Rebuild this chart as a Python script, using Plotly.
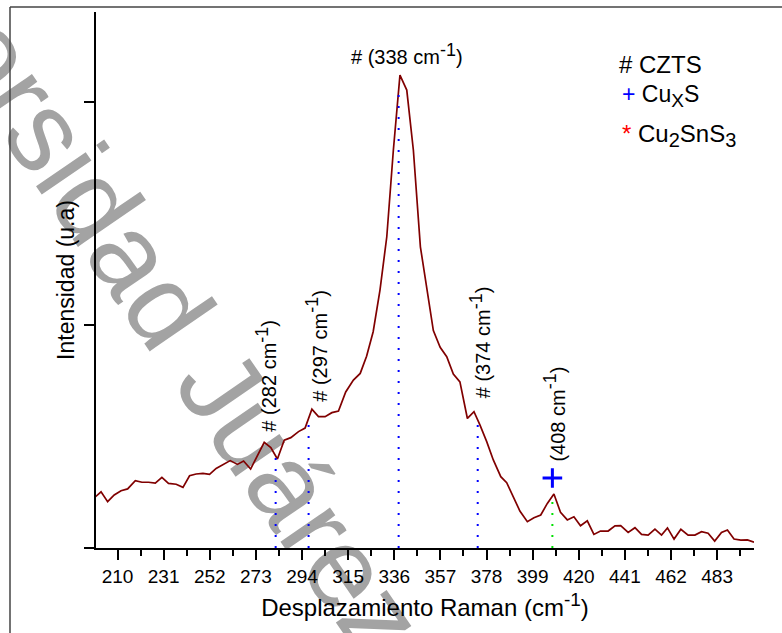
import numpy as np
import plotly.graph_objects as go

# Raman spectrum (shift in cm-1, intensity in arbitrary units)
raman_shift = [
    200.0, 202.5, 205.5, 208.5, 211.6, 214.6, 218.1, 221.1, 224.1, 227.2,
    230.2, 233.2, 236.7, 239.8, 242.8, 245.8, 248.9, 251.9, 254.9, 258.3,
    261.3, 264.6, 267.4, 270.6, 276.8, 279.8, 282.8, 285.9, 288.9, 292.4,
    295.4, 298.5, 301.5, 304.5, 307.6, 310.6, 313.9, 317.4, 320.5, 323.4,
    326.4, 329.5, 332.6, 335.6, 338.6, 341.7, 344.7, 347.9, 351.0, 353.8,
    356.9, 359.9, 362.9, 365.9, 369.3, 372.3, 375.0, 378.1, 381.1, 384.5,
    387.2, 390.2, 393.2, 396.6, 399.6, 402.7, 405.7, 408.7, 411.7, 414.8,
    417.8, 420.8, 423.9, 426.9, 429.9, 433.4, 436.5, 439.1, 442.5, 445.6,
    448.6, 451.6, 454.7, 457.7, 460.4, 463.4, 466.5, 469.8, 472.9, 475.9,
    478.9, 481.9, 485.0, 487.7, 490.7, 493.8, 496.8, 499.8,
]
intensity = [
    230, 252, 208, 238, 257, 265, 302, 295, 295, 291,
    317, 290, 286, 272, 324, 332, 335, 330, 357, 375,
    392, 375, 390, 354, 474, 450, 399, 484, 495, 522,
    538, 623, 589, 589, 607, 614, 700, 753, 783, 860,
    970, 1157, 1396, 1785, 2121, 2054, 1785, 1351, 1142, 975,
    900, 858, 780, 745, 581, 611, 552, 477, 395, 320,
    293, 230, 166, 118, 136, 148, 200, 242, 160, 126,
    140, 100, 122, 61, 76, 76, 99, 100, 70, 91,
    61, 58, 85, 58, 90, 40, 84, 58, 58, 73,
    66, 31, 70, 81, 40, 35, 36, 26,
]

# Assigned CZTS modes (blue) and the CuxS mode (green)
czts_peaks = [282, 297, 338, 374]
cuxs_peaks = [408]

x_ticks = [210, 231, 252, 273, 294, 315, 336, 357, 378, 399, 420, 441, 462, 483]
y_ticks = [0, 1000, 2000]

FONT = "Arial, Liberation Sans, sans-serif"
X_RANGE = [200.2, 499.8]
Y_RANGE = [0, 2404]


def sup(t, size):
    return f"<sup><span style='font-size:{size}px'>{t}</span></sup>"


def sub(t, size):
    return f"<sub><span style='font-size:{size}px'>{t}</span></sub>"


fig = go.Figure()

# Spectrum
fig.add_trace(go.Scatter(
    x=raman_shift, y=intensity, mode="lines",
    line=dict(color="#800000", width=1.7),
    showlegend=False, hoverinfo="skip",
))


# Dotted guide lines from the baseline up to the spectrum
def guide(pos, color):
    top = float(np.interp(pos, raman_shift, intensity))
    fig.add_trace(go.Scatter(
        x=[pos, pos], y=[0, top], mode="lines",
        line=dict(color=color, width=2, dash="2px,9px"),
        showlegend=False, hoverinfo="skip",
    ))


for p in czts_peaks:
    guide(p, "#0000ff")
for p in cuxs_peaks:
    guide(p, "#00e000")

# CuxS marker above the 408 cm-1 band
fig.add_trace(go.Scatter(
    x=[cuxs_peaks[0]], y=[314], mode="markers",
    marker=dict(symbol="cross-thin", size=14, line=dict(color="#0000ff", width=3)),
    showlegend=False, hoverinfo="skip",
))

# Peak labels
LBL = 20
peak_font = dict(family=FONT, size=LBL, color="black")
fig.add_annotation(x=342.0, y=2215, text="# (338 cm" + sup("-1", 18) + ")",
                   showarrow=False, font=peak_font, xanchor="center", yanchor="middle")
for xp, yp, val, prefix in [
    (277.5, 772, 282, "# "),
    (300.6, 905, 297, "# "),
    (374.8, 925, 374, "# "),
    (408.9, 600, 408, ""),
]:
    fig.add_annotation(x=xp, y=yp, text=f"{prefix}({val} cm" + sup("-1", 18) + ")",
                       textangle=-90, showarrow=False,
                       font=peak_font, xanchor="center", yanchor="middle")

# Phase key
fig.add_annotation(x=437.4, y=2170, text="# CZTS", showarrow=False,
                   font=dict(family=FONT, size=24, color="black"),
                   xanchor="left", yanchor="middle")
fig.add_annotation(x=438.8, y=2027,
                   text="<span style='color:#0000ff'>+</span> Cu" + sub("X", 19) + "S",
                   showarrow=False, font=dict(family=FONT, size=23, color="black"),
                   xanchor="left", yanchor="middle")
fig.add_annotation(x=438.8, y=1848,
                   text="<span style='color:#ff0000'>*</span> Cu" + sub("2", 20)
                        + "SnS" + sub("3", 20),
                   showarrow=False, font=dict(family=FONT, size=24, color="black"),
                   xanchor="left", yanchor="middle")

# Watermark, drawn beneath the data
fig.add_shape(
    type="rect", xref="paper", yref="paper", layer="below",
    x0=0.048, x1=0.058, y0=0.579, y1=0.589,
    line=dict(width=0), fillcolor="rgba(0,0,0,0)",
    label=dict(text="Universidad Juárez", textangle=55.5,
               textposition="middle center",
               font=dict(family=FONT, size=114, color="#a3a3a3")),
)

# Outer frame edges
fig.add_shape(type="line", xref="paper", yref="paper",
              x0=-0.1307, x1=-0.1307, y0=1.0093, y1=-0.2,
              line=dict(color="#444444", width=1.5))
fig.add_shape(type="line", xref="paper", yref="paper",
              x0=-0.1307, x1=1.1, y0=1.0093, y1=1.0093,
              line=dict(color="#444444", width=1.5))

fig.update_layout(
    width=782, height=633,
    margin=dict(l=96, r=28, t=12, b=85),
    paper_bgcolor="white", plot_bgcolor="rgba(0,0,0,0)",
    font=dict(family=FONT, color="black"),
    showlegend=False,
)

fig.update_xaxes(
    range=X_RANGE, tickmode="array", tickvals=x_ticks,
    ticks="outside", ticklen=10, tickwidth=1.5, tickcolor="black",
    minor=dict(ticks="outside", ticklen=6, tickwidth=1.5, tickcolor="black",
               tickmode="linear", tick0=199.5, dtick=21),
    showline=True, linecolor="black", linewidth=2,
    showgrid=False, zeroline=False,
    tickfont=dict(family=FONT, size=19, color="black"),
    title=dict(text="Desplazamiento Raman (cm" + sup("-1", 19) + ")",
               font=dict(family=FONT, size=24, color="black"), standoff=13),
)
fig.update_yaxes(
    range=Y_RANGE, tickmode="array", tickvals=y_ticks, showticklabels=False,
    ticks="outside", ticklen=10, tickwidth=1.5, tickcolor="black",
    showline=True, linecolor="black", linewidth=2,
    showgrid=False, zeroline=False,
    title=dict(text="Intensidad (u.a)",
               font=dict(family=FONT, size=23, color="black"), standoff=3),
)

fig.write_html("out.html")
